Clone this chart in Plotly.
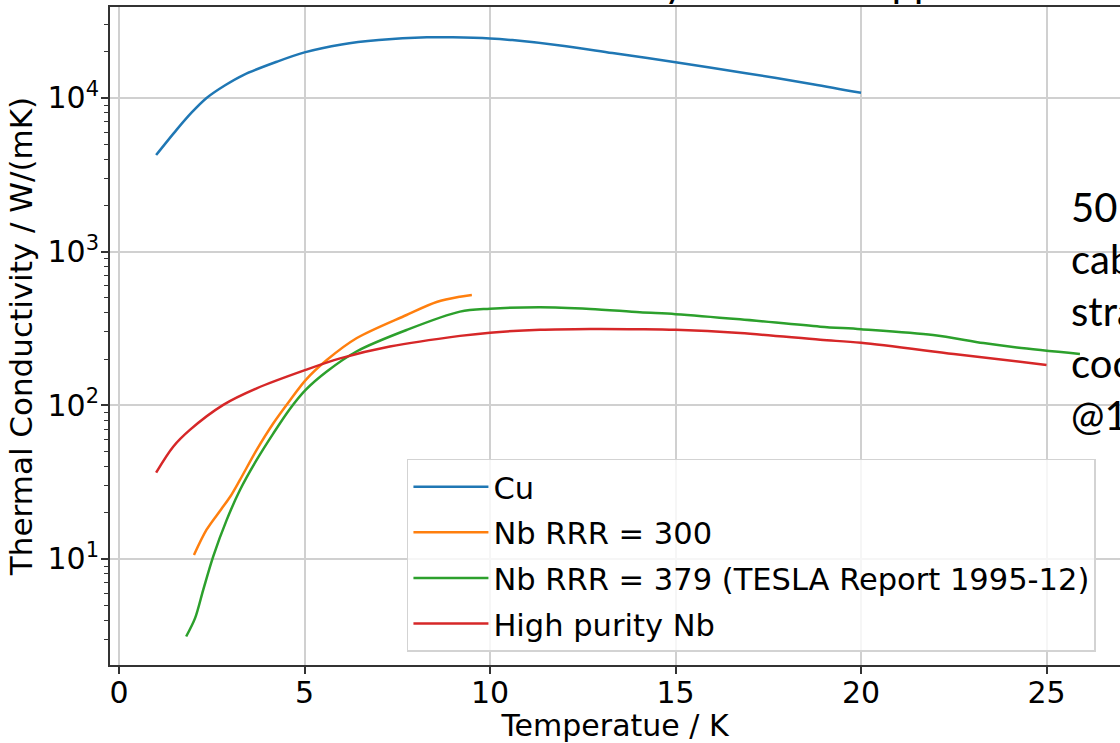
import plotly.graph_objects as go

# ---- data ----
cu_T = [1.0, 1.55, 1.96, 2.36, 2.86, 3.35, 4.25, 5.0, 6.0, 7.0, 8.3, 9.0, 10.0, 10.6, 12.0, 13.3, 15.0, 16.9, 18.7, 20.0]
cu_k = [4250, 6200, 8050, 10000, 12100, 14100, 17200, 19800, 22300, 23800, 24800, 24800, 24400, 23800, 21800, 19600, 17100, 14500, 12300, 10800]

nb300_T = [2.02, 2.36, 2.75, 3.0, 3.26, 3.71, 4.16, 4.61, 5.03, 5.6, 6.4, 7.75, 8.56, 9.19, 9.51]
nb300_k = [10.6, 15.5, 21.0, 25.5, 32.7, 51.3, 76.5, 108, 146, 197, 273, 387, 470, 509, 522]

nb379_T = [1.81, 2.05, 2.27, 2.54, 2.9, 3.26, 3.71, 4.16, 4.61, 5.03, 5.6, 6.4, 7.75, 9.19,
           10.0, 11.35, 12.7, 14.04, 15.0, 16.74, 18.9, 20.0, 21.94, 23.3, 24.2, 25.9]
nb379_k = [3.13, 4.12, 6.3, 10.4, 17.9, 28.1, 44.1, 65.7, 95, 126, 166, 224, 309, 407,
           425, 435, 424, 403, 392, 363, 325, 313, 287, 254, 238, 216]

hp_T = [1.0, 1.46, 1.91, 2.81, 3.71, 5.03, 5.96, 7.3, 9.19, 10.0, 11.35, 12.7, 14.04, 15.0, 16.74, 18.9, 20.0, 22.5, 25.0]
hp_k = [36.5, 53.8, 69.2, 100.7, 129, 170, 202, 241, 283, 297, 310, 314, 313, 310, 295, 267, 255, 216, 183]

series_names = ["Cu", "Nb RRR = 300", "Nb RRR = 379 (TESLA Report 1995-12)", "High purity Nb"]
series_colors = ["#1f77b4", "#ff7f0e", "#2ca02c", "#d62728"]

x_ticks = [0, 5, 10, 15, 20, 25]
y_ticks = [10, 100, 1000, 10000]
y_ticktext = ["10<sup>1</sup>", "10<sup>2</sup>", "10<sup>3</sup>", "10<sup>4</sup>"]
y_minor = [m * 10 ** e for e in range(0, 5) for m in range(2, 10)]

title_text = "Thermal Conductivity: Nb and Copper"
side_lines = ["50 K heat", "cable", "strands", "cooled", "@1.9 K"]

FONT = "DejaVu Sans"

fig = go.Figure()
for i, (T, k, name, col) in enumerate(zip([cu_T, nb300_T, nb379_T, hp_T],
                                          [cu_k, nb300_k, nb379_k, hp_k],
                                          series_names, series_colors)):
    fig.add_trace(go.Scatter(x=T, y=k, mode="lines", name=name, legendgroup=f"g{i}",
                             line=dict(color=col, width=2.5, shape="spline", smoothing=0.9)))

fig.update_layout(
    width=1120, height=743,
    margin=dict(l=110, r=0, t=7, b=78),
    paper_bgcolor="white", plot_bgcolor="white",
    font=dict(family=FONT, size=30, color="black"),
    showlegend=True,
    legend=dict(
        x=0.294, xanchor="left", y=0.02, yanchor="bottom",
        bgcolor="rgba(255,255,255,0.8)", bordercolor="#d3d3d3", borderwidth=1.5,
        font=dict(family=FONT, size=30.5, color="black"),
        itemwidth=75, tracegroupgap=3,
    ),
    xaxis=dict(
        range=[-0.243, 26.98], tickvals=x_ticks,
        ticks="outside", ticklen=7, tickwidth=1.5, tickcolor="#333333",
        ticklabelstandoff=-7,
        showline=True, linecolor="#333333", linewidth=2, mirror=True,
        showgrid=True, gridcolor="#d0d0d0", gridwidth=1.5, zeroline=False,
        tickfont=dict(family=FONT, size=30, color="black"),
        title=dict(text="Temperatue / K", font=dict(family=FONT, size=30, color="black"), standoff=8),
    ),
    yaxis=dict(
        type="log", range=[0.310, 4.592],
        tickvals=y_ticks, ticktext=y_ticktext,
        ticks="outside", ticklen=7, tickwidth=1.5, tickcolor="#333333",
        ticklabelstandoff=-4,
        minor=dict(tickmode="array", tickvals=y_minor, ticks="outside", ticklen=4,
                   tickwidth=1, tickcolor="#333333", showgrid=False),
        showline=True, linecolor="#333333", linewidth=2,
        showgrid=True, gridcolor="#d0d0d0", gridwidth=1.5, zeroline=False,
        tickfont=dict(family=FONT, size=30, color="black"),
        title=dict(text="Thermal Conductivity / W/(mK)", font=dict(family=FONT, size=31, color="black"), standoff=6),
    ),
)

fig.add_annotation(
    text=title_text, xref="paper", yref="paper", x=0.5, y=1.0,
    xanchor="center", yanchor="bottom", yshift=-1, xshift=24, showarrow=False,
    font=dict(family="Lato", size=40, color="black"),
)
fig.add_annotation(
    text="<br>".join(side_lines), xref="paper", yref="paper", x=0.9495, y=0.7356,
    xanchor="left", yanchor="top", align="left", showarrow=False,
    font=dict(family="Lato", size=40, color="black"),
)

fig.write_html("out.html",
               config={"displayModeBar": False},
               post_script="document.body.style.margin='0';document.body.style.overflow='hidden';")
